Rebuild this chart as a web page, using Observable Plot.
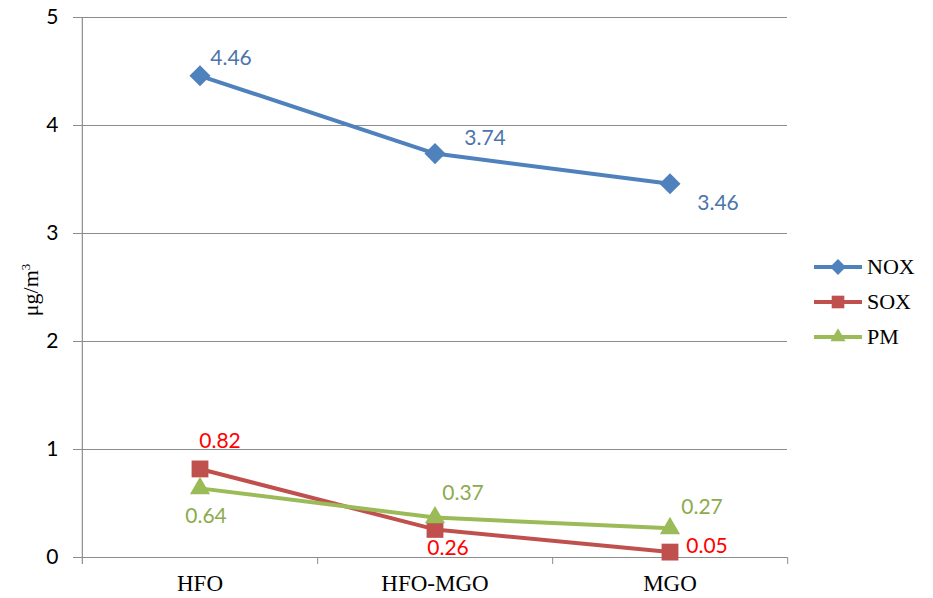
<!DOCTYPE html>
<html>
<head>
<meta charset="utf-8">
<script src="https://cdn.jsdelivr.net/npm/d3@7"></script>
<script src="https://cdn.jsdelivr.net/npm/@observablehq/plot@0.6"></script>
<style>
  body { margin: 0; background: #fff; }
  #wrap { position: relative; width: 933px; height: 598px; }
  #ylabel { position: absolute; left: 31px; top: 290px; transform: translate(-50%, -50%) rotate(-90deg);
    font-family: "Liberation Serif", serif; font-size: 22px; color: #000; white-space: nowrap; }
  #legend { position: absolute; left: 812px; top: 249px; font-family: "Liberation Serif", serif; font-size: 22px; }
  #legend .item { display: flex; align-items: center; height: 35px; }
  #legend svg { margin-right: 3px; }
</style>
</head>
<body>
<div id="wrap">
  <div id="chart"></div>
  <div id="ylabel">μg/m<sup style="font-size:13px">3</sup></div>
  <div id="legend"></div>
</div>
<script>
const categories = ["HFO", "HFO-MGO", "MGO"];
const seriesNames = ["NOX", "SOX", "PM"];
const noxValues = [4.46, 3.74, 3.46];
const soxValues = [0.82, 0.26, 0.05];
const pmValues = [0.64, 0.37, 0.27];
const yTicks = [0, 1, 2, 3, 4, 5];

const seriesValues = {NOX: noxValues, SOX: soxValues, PM: pmValues};
const lineColor = {NOX: "#4F81BD", SOX: "#C0504D", PM: "#9BBB59"};
const labelColor = {NOX: "#4A74AC", SOX: "#FF0000", PM: "#8CAB4E"};
const symbolOf = {NOX: "diamond2", SOX: "square", PM: "triangle"};
const symbolR = {NOX: 9.5, SOX: 9.5, PM: 7.5};
// label offsets (style), per series per category
const labelOffset = {
  NOX: [[31, -18], [50, -15], [48, 19]],
  SOX: [[20, -28], [13, 19], [37, -6]],
  PM:  [[6, 28], [28, -24], [32, -21]]
};

const rows = seriesNames.flatMap(s => categories.map((c, i) => ({series: s, cat: c, value: seriesValues[s][i], i})));

const W = 933, H = 598, mL = 81, mR = 146, mT = 17, mB = 41;
const bw = (W - mL - mR) / categories.length;

const marks = [
  Plot.ruleY(yTicks, {y: d => d, stroke: "#8c8c8c", strokeWidth: 1, insetLeft: -8}),
  Plot.ruleX([0], {x: () => categories[0], dx: -bw / 2, stroke: "#8c8c8c", strokeWidth: 1.2, insetBottom: -7}),
  Plot.ruleX(categories, {x: d => d, dx: bw / 2, y1: 0, y2: 0, stroke: "#8c8c8c", insetBottom: -7}),
];

for (const s of ["SOX", "PM", "NOX"]) {
  const data = rows.filter(r => r.series === s);
  marks.push(Plot.line(data, {x: "cat", y: "value", stroke: lineColor[s], strokeWidth: 4}));
  marks.push(Plot.dot(data, {x: "cat", y: "value", symbol: () => symbolOf[s], r: symbolR[s], fill: lineColor[s], stroke: "none"}));
}
for (const s of seriesNames) {
  rows.filter(r => r.series === s).forEach(r => {
    const [dx, dy] = labelOffset[s][r.i];
    marks.push(Plot.text([r], {x: "cat", y: "value", text: d => d.value.toFixed(2), dx, dy,
      fill: labelColor[s], fontSize: 21, fontFamily: "Lato, 'Open Sans', sans-serif", lineAnchor: "middle", textAnchor: "middle"}));
  });
}

const chart = Plot.plot({
  width: W, height: H,
  marginLeft: mL, marginRight: mR, marginTop: mT, marginBottom: mB,
  style: {background: "#fff", overflow: "visible", color: "#000"},
  x: {type: "band", domain: categories, padding: 0, label: null},
  y: {domain: [0, 5], label: null},
  symbol: {type: "identity"},
  marks: [
    ...marks,
    Plot.axisY({ticks: yTicks, tickSize: 0, tickPadding: 23, label: null, fontSize: 21, fill: "#000", fontFamily: "Lato, 'Open Sans', sans-serif", tickFormat: d => String(d)}),
    Plot.axisX({tickSize: 0, tickPadding: 17, label: null, fontSize: 23, fill: "#000", fontFamily: "'Liberation Serif', serif"})
  ]
});
document.getElementById("chart").appendChild(chart);

// Legend
const leg = document.getElementById("legend");
for (const s of seriesNames) {
  const item = document.createElement("div");
  item.className = "item";
  const sv = d3.create("svg").attr("width", 52).attr("height", 24);
  sv.append("line").attr("x1", 2).attr("x2", 50).attr("y1", 12).attr("y2", 12).attr("stroke", lineColor[s]).attr("stroke-width", 4);
  const sym = {diamond2: d3.symbolDiamond2, square: d3.symbolSquare, triangle: d3.symbolTriangle}[symbolOf[s]];
  sv.append("path").attr("d", d3.symbol(sym, Math.PI * (symbolR[s] * 0.75) ** 2)()).attr("transform", "translate(26,12)").attr("fill", lineColor[s]);
  item.appendChild(sv.node());
  const lbl = document.createElement("span");
  lbl.textContent = s;
  item.appendChild(lbl);
  leg.appendChild(item);
}
</script>
</body>
</html>
